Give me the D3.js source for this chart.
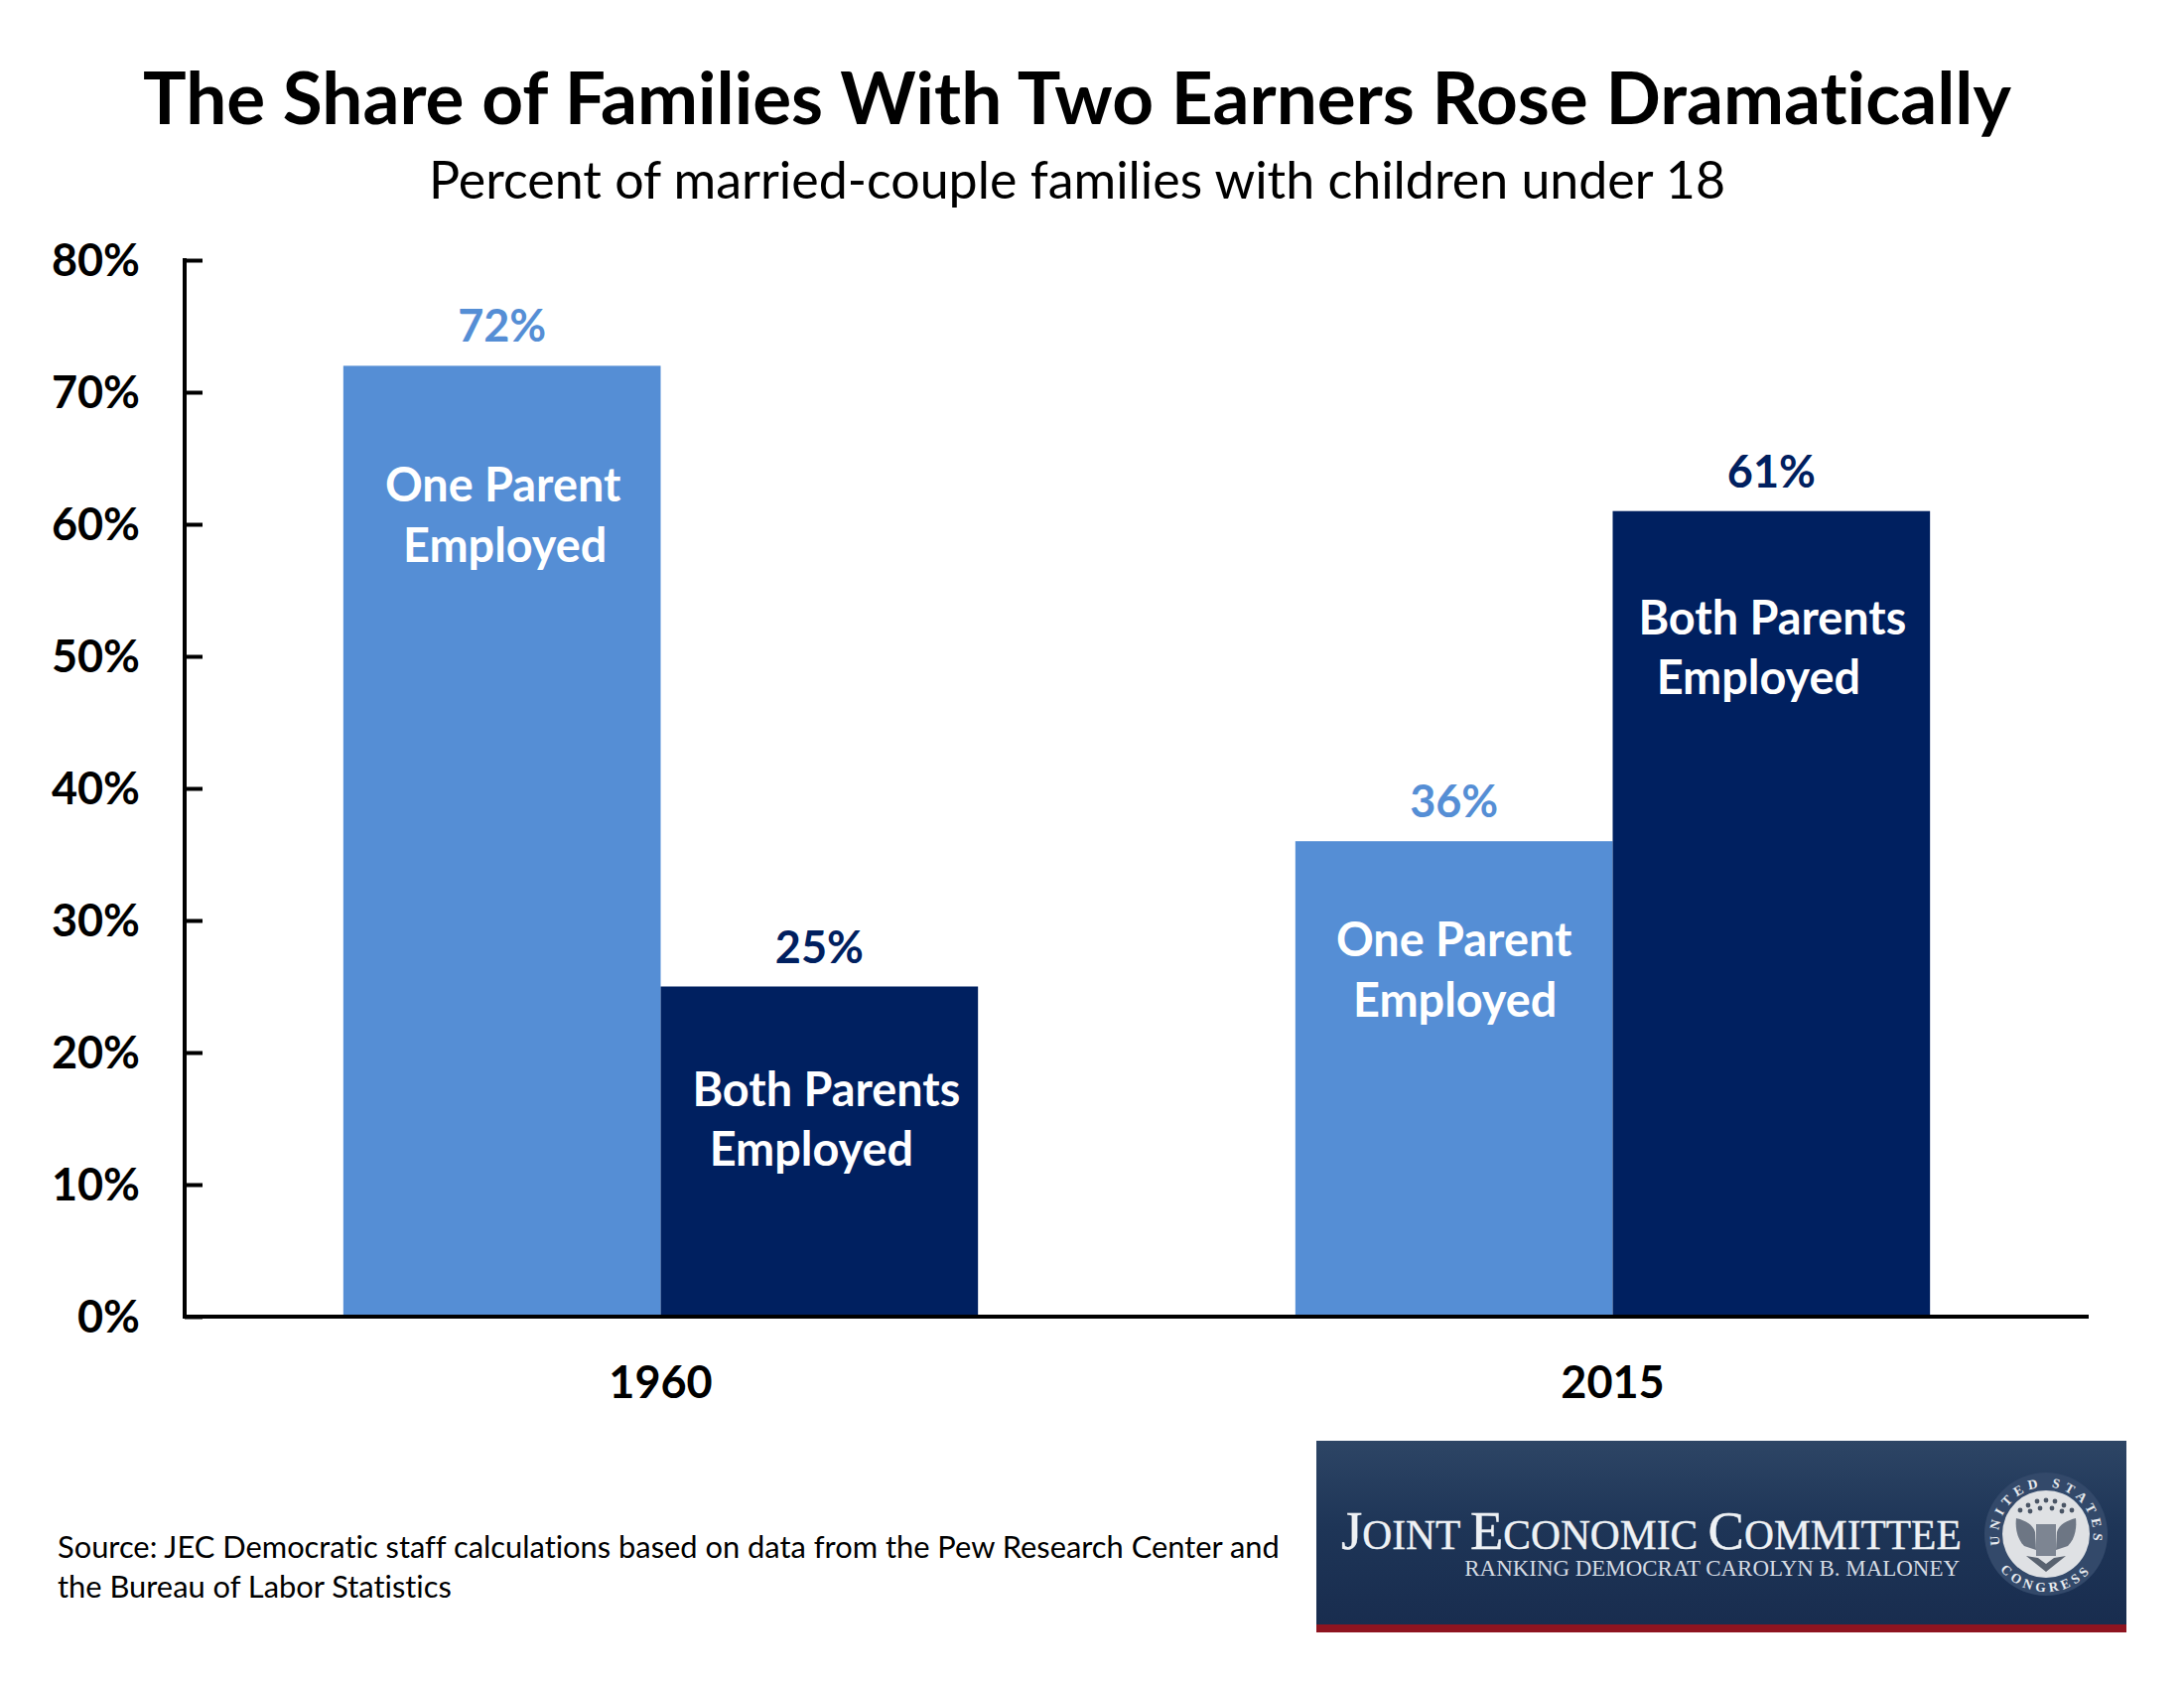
<!DOCTYPE html>
<html><head><meta charset="utf-8">
<script src="https://cdn.jsdelivr.net/npm/d3@7"></script>
<style>html,body{margin:0;padding:0;background:#fff}svg{display:block}text{font-family:Lato,"Open Sans",sans-serif;font-variant-ligatures:none}text.sf{font-family:"Liberation Serif",serif}</style>
</head><body><svg id="c" width="2200" height="1700"></svg>
<script>
const years = ["1960","2015"];
const seriesNames = ["One Parent Employed","Both Parents Employed"];
const onePct = [72,36];
const bothPct = [25,61];
const yTicks = [0,10,20,30,40,50,60,70,80];
const titleText = "The Share of Families With Two Earners Rose Dramatically";
const subtitleText = "Percent of married-couple families with children under 18";
const sourceLines = ["Source: JEC Democratic staff calculations based on data from the Pew Research Center and","the Bureau of Labor Statistics"];
const colors = ["#558ed5","#002060"];

const svg = d3.select("#c");
const y = d3.scaleLinear().domain([0,80]).range([1326,262]);
const x0 = d3.scaleBand().domain(years).range([186,2104]).paddingInner(1/3).paddingOuter(1/6);
const x1 = d3.scaleBand().domain([0,1]).range([0,x0.bandwidth()]);

svg.append("text").attr("x",1085).attr("y",125).attr("text-anchor","middle")
  .attr("font-size",72.9).attr("font-weight",700).attr("fill","#000").text(titleText);
svg.append("text").attr("x",1085).attr("y",200).attr("text-anchor","middle")
  .attr("font-size",51.9).attr("fill","#000").text(subtitleText);

const rows = years.flatMap((yr,i)=>[
  {yr,s:0,v:onePct[i]},{yr,s:1,v:bothPct[i]}]);
svg.selectAll("rect.bar").data(rows).join("rect").attr("class","bar")
  .attr("x",d=>x0(d.yr)+x1(d.s)).attr("width",x1.bandwidth())
  .attr("y",d=>y(d.v)).attr("height",d=>y(0)-y(d.v)).attr("fill",d=>colors[d.s]);

// y axis
const yAxis = d3.axisLeft(y).tickValues(yTicks).tickFormat(d=>d+"%").tickSize(-18).tickPadding(45);
const gy = svg.append("g").attr("transform","translate(186,0)").call(yAxis);
gy.select(".domain").attr("stroke","#000").attr("stroke-width",4).attr("d",`M0,${y(80)-2}V${y(0)+2}`);
gy.selectAll(".tick line").attr("stroke","#000").attr("stroke-width",4);
gy.selectAll(".tick text").attr("font-size",45).attr("font-weight",700).attr("fill","#000")
  .attr("font-family","Lato").attr("dy","0.34em");

// x axis
const xAxis = d3.axisBottom(x0).tickSize(0).tickPadding(50);
const gx = svg.append("g").attr("transform",`translate(0,${y(0)})`).call(xAxis);
gx.select(".domain").attr("stroke","#000").attr("stroke-width",4).attr("d","M186,0H2104");
gx.selectAll(".tick text").attr("font-size",45).attr("font-weight",700).attr("fill","#000")
  .attr("font-family","Lato");

// value labels
svg.selectAll("text.val").data(rows).join("text").attr("class","val")
  .attr("x",d=>x0(d.yr)+x1(d.s)+x1.bandwidth()/2).attr("y",d=>y(d.v)-24)
  .attr("text-anchor","middle").attr("font-size",45).attr("font-weight",700)
  .attr("fill",d=>colors[d.s]).text(d=>d.v+"%");

// inside labels
const inner = [
  {yr:"1960",s:0,drop:137,dx:[1,3]},
  {yr:"1960",s:1,drop:120,dx:[7,-8]},
  {yr:"2015",s:0,drop:116,dx:[0,1]},
  {yr:"2015",s:1,drop:124,dx:[1,-13]}
];
const val = (yr,s)=> (s?bothPct:onePct)[years.indexOf(yr)];
const innerLines = [["One Parent","Employed"],["Both Parents","Employed"]];
inner.forEach(a=>{
  const cx = x0(a.yr)+x1(a.s)+x1.bandwidth()/2;
  innerLines[a.s].forEach((t,i)=>{
    svg.append("text").attr("x",cx+a.dx[i]).attr("y",y(val(a.yr,a.s))+a.drop+i*60.5)
      .attr("text-anchor","middle").attr("font-size",46.8).attr("font-weight",700).attr("fill","#fff").text(t);
  });
});

// source
sourceLines.forEach((t,i)=>svg.append("text").attr("x",58).attr("y",1569+i*40)
  .attr("font-size",30.85).attr("fill","#000").text(t));

// logo
const defs = svg.append("defs");
const g1 = defs.append("linearGradient").attr("id","bg").attr("x1",0).attr("x2",0).attr("y1",0).attr("y2",1);
g1.append("stop").attr("offset",0).attr("stop-color","#2d4565");
g1.append("stop").attr("offset",0.45).attr("stop-color","#1e3557");
g1.append("stop").attr("offset",1).attr("stop-color","#182c4e");
const logo = svg.append("g");
logo.append("rect").attr("x",1326).attr("y",1451).attr("width",816).attr("height",193).attr("fill","url(#bg)");
logo.append("rect").attr("x",1326).attr("y",1636).attr("width",816).attr("height",8).attr("fill","#8e1420");
const t1 = logo.append("text").attr("class","sf").attr("x",1351).attr("y",1560).attr("fill","#eef1f4")
  .attr("stroke","#eef1f4").attr("stroke-width",0.4);
const logoParts = [["J",1],["OINT ",0],["E",1],["CONOMIC ",0],["C",1],["OMMITTEE",0]];
const spans = logoParts.map(([s,b])=>t1.append("tspan").attr("font-size",b?54:41).text(s));
const fit = 625 / t1.node().getComputedTextLength();
spans.forEach((sp,i)=>sp.attr("font-size",(logoParts[i][1]?54:41)*fit));
const t2 = logo.append("text").attr("class","sf").attr("x",1974).attr("y",1587).attr("text-anchor","end")
  .attr("font-size",22).attr("fill","#d5dbe3").text("RANKING DEMOCRAT CAROLYN B. MALONEY");
t2.attr("font-size",22*499/t2.node().getComputedTextLength());
const sx=2061, sy=1545;
logo.append("circle").attr("cx",sx).attr("cy",sy).attr("r",62).attr("fill","#33496a");
logo.append("circle").attr("cx",sx).attr("cy",sy).attr("r",44).attr("fill","#dfe1e4");
defs.append("path").attr("id","arcT").attr("d",`M${sx-46},${sy+12}A47.5,47.5 0 1 1 ${sx+46},${sy+12}`);
defs.append("path").attr("id","arcB").attr("d",`M${sx-53},${sy+25}A59,59 0 0 0 ${sx+53},${sy+25}`);
logo.append("text").attr("class","sf").attr("font-size",13.5).attr("font-weight",700).attr("fill","#e8ebef").attr("letter-spacing",5)
  .append("textPath").attr("href","#arcT").attr("startOffset","50%").attr("text-anchor","middle").text("UNITED STATES");
logo.append("text").attr("class","sf").attr("font-size",13.5).attr("font-weight",700).attr("fill","#e8ebef").attr("letter-spacing",4)
  .append("textPath").attr("href","#arcB").attr("startOffset","50%").attr("text-anchor","middle").text("CONGRESS");
// simplified eagle emblem
logo.append("path").attr("fill","#6d7684").attr("d",`M${sx-30},${sy-16}C${sx-22},${sy-14} ${sx-13},${sy-10} ${sx-11},${sy-2}L${sx-10},${sy+16}L${sx-22},${sy+12}C${sx-30},${sy+4} ${sx-31},${sy-8} ${sx-30},${sy-16}Z`);
logo.append("path").attr("fill","#6d7684").attr("d",`M${sx+30},${sy-16}C${sx+22},${sy-14} ${sx+13},${sy-10} ${sx+11},${sy-2}L${sx+10},${sy+16}L${sx+22},${sy+12}C${sx+30},${sy+4} ${sx+31},${sy-8} ${sx+30},${sy-16}Z`);
logo.append("rect").attr("x",sx-10).attr("y",sy-10).attr("width",20).attr("height",32).attr("fill","#7d8592");
logo.append("path").attr("fill","#59626f").attr("d",`M${sx-20},${sy+22}L${sx},${sy+38}L${sx+20},${sy+22}L${sx+8},${sy+24}L${sx},${sy+30}L${sx-8},${sy+24}Z`);
const stars = [[-26,-24],[-18,-29],[-9,-33],[0,-34],[9,-33],[18,-29],[26,-24],[-16,-23],[-6,-26],[6,-26],[16,-23]];
logo.selectAll("circle.star").data(stars).join("circle").attr("class","star")
  .attr("cx",d=>sx+d[0]).attr("cy",d=>sy+d[1]).attr("r",2.4).attr("fill","#4a5565");
</script></body></html>
